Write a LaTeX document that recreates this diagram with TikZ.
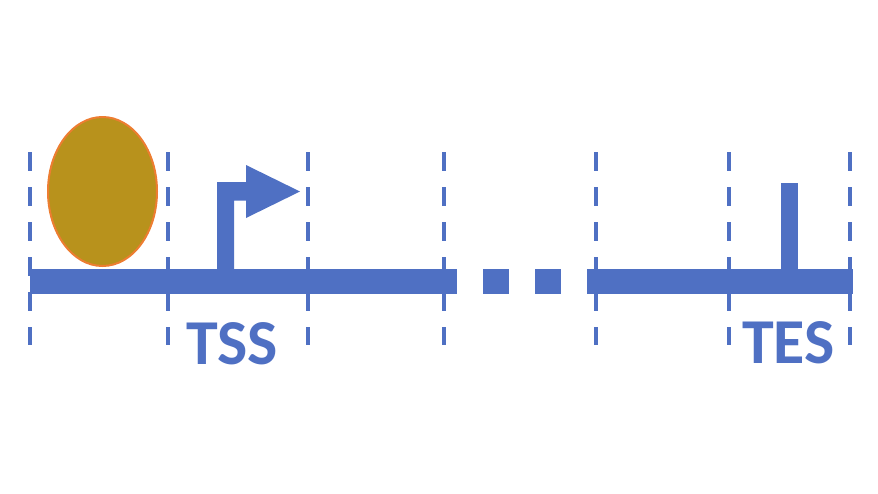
\documentclass[tikz,border=0pt]{standalone}
\usepackage{fontspec}
\setmainfont{Carlito}
\usetikzlibrary{shapes.geometric}
\definecolor{geneblue}{HTML}{4F70C3}
\definecolor{nucgold}{HTML}{B8921C}
\definecolor{nucedge}{HTML}{ED7D31}
\begin{document}
\begin{tikzpicture}[x=1pt,y=-1pt,
  bar/.style={fill=geneblue,draw=none},
  divider/.style={draw=geneblue,line width=4pt,dash pattern=on 18.5pt off 16.5pt},
  sitelabel/.style={text=geneblue,font=\bfseries\fontsize{64}{64}\selectfont,anchor=base,inner sep=0pt}]
\useasboundingbox (0,0) rectangle (878,493);
% section dividers
\foreach \x in {30,168,308,444,596,729,850}
  \draw[divider] (\x,152) -- (\x,345);
% gene body with gap
\fill[bar] (30,268.5) rectangle (456.5,293.5);
\fill[bar] (483,268.5) rectangle (509,293.5);
\fill[bar] (535,268.5) rectangle (561,293.5);
\fill[bar] (587,268.5) rectangle (852.5,293.5);
% nucleosome
\node[ellipse,draw=nucedge,line width=2pt,fill=nucgold,minimum width=109pt,minimum height=149pt,inner sep=0pt] (nuc) at (102.5,191.5) {};
% transcription start arrow
\fill[bar] (217,281) -- (217,182) -- (247,182) -- (247,200.5) -- (234,200.5) -- (234,281) -- cycle;
\fill[bar] (246,165) -- (300,191.5) -- (246,218) -- cycle;
% transcription end mark
\fill[bar] (781,183) rectangle (797.5,281);
% labels
\node[sitelabel] (tss) at (232,364) {TSS};
\node[sitelabel] (tes) at (788.5,363) {TES};
\end{tikzpicture}
\end{document}
